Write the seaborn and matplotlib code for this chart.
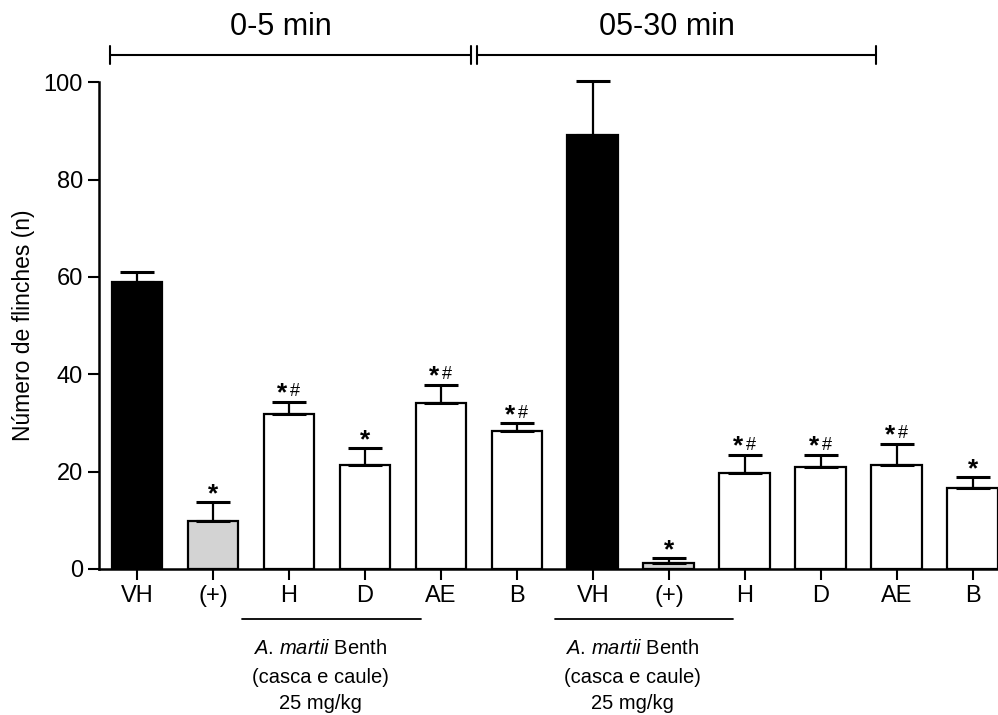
import numpy as np
import pandas as pd
import seaborn as sns
import matplotlib.pyplot as plt

# data
groups = ["VH", "(+)", "H", "D", "AE", "B", "VH", "(+)", "H", "D", "AE", "B"]
means = [58.9, 9.9, 31.8, 21.4, 34.2, 28.3, 89.2, 1.3, 19.7, 20.9, 21.4, 16.6]
sem = [2.1, 3.8, 2.5, 3.4, 3.6, 1.6, 11.1, 1.0, 3.7, 2.5, 4.3, 2.3]
marks = ["", "*", "*#", "*", "*#", "*#", "", "*", "*#", "*#", "*#", "*"]
fills = ["black", "#d3d3d3", "white", "white", "white", "white",
         "black", "#d3d3d3", "white", "white", "white", "white"]

sns.set_style("ticks")
plt.rcParams["font.family"] = ["Liberation Sans", "DejaVu Sans"]
plt.rcParams["mathtext.fontset"] = "custom"
plt.rcParams["mathtext.rm"] = "Liberation Sans"
plt.rcParams["mathtext.it"] = "Liberation Sans:italic"
for k in ["text.color", "axes.labelcolor", "xtick.color", "ytick.color",
          "axes.edgecolor"]:
    plt.rcParams[k] = "black"

df = pd.DataFrame({"key": [f"{g}_{i}" for i, g in enumerate(groups)],
                   "mean": means})

fig = plt.figure(figsize=(9.98, 7.15), dpi=100)
ax = fig.add_axes([0.0992, 0.2042, 0.9008, 0.6808])

sns.barplot(data=df, x="key", y="mean", hue="key", palette=fills,
            legend=False, width=0.67, edgecolor="black", linewidth=1.6,
            errorbar=None, ax=ax)

pos = np.arange(len(groups))
ax.errorbar(pos, means, yerr=[np.zeros(len(sem)), sem], fmt="none",
            ecolor="black", elinewidth=1.6, capsize=12, capthick=2.2,
            clip_on=False, zorder=3)

# significance marks
for x, m, s, t in zip(pos, means, sem, marks):
    if not t:
        continue
    top = m + s
    if t == "*":
        ax.annotate("*", (x, top), xytext=(0, 0.5), textcoords="offset points",
                    ha="center", va="baseline", fontsize=19, fontweight="bold")
    else:
        ax.annotate("*", (x, top), xytext=(-1.0, 1.0), textcoords="offset points",
                    ha="right", va="baseline", fontsize=19, fontweight="bold")
        ax.annotate("#", (x, top), xytext=(1.0, 4.0), textcoords="offset points",
                    ha="left", va="baseline", fontsize=13)

ax.set_xlim(-0.5, 11.33)
ax.set_ylim(0, 100)
ax.set_yticks([0, 20, 40, 60, 80, 100])
ax.set_xticks(pos)
ax.set_xticklabels(groups)
ax.tick_params(labelsize=17, width=1.5, length=8, direction="out")
ax.set_xlabel("")
ax.set_ylabel("Número de flinches (n)", fontsize=16.5, labelpad=6)
sns.despine(ax=ax)
for sp in ["left", "bottom"]:
    ax.spines[sp].set_linewidth(1.8)

# time-window brackets above the plot
trans = ax.get_xaxis_transform()
brackets = [(-0.355, 4.40, "0-5 min"), (4.47, 9.73, "05-30 min")]
for x0, x1, lab in brackets:
    ax.plot([x0, x1], [1.056, 1.056], color="black", lw=1.5,
            transform=trans, clip_on=False)
    for xe in (x0, x1):
        ax.plot([xe, xe], [1.038, 1.074], color="black", lw=1.5,
                transform=trans, clip_on=False)
    ax.text((x0 + x1) / 2 - 0.13, 1.113, lab, ha="center", va="center",
            fontsize=22, transform=trans)

# treatment group labels below the axis
for x0, x1 in [(1.38, 3.74), (5.5, 7.84)]:
    ax.plot([x0, x1], [-0.102, -0.102], color="black", lw=1.3,
            transform=trans, clip_on=False)
    xc = (x0 + x1) / 2 - 0.15
    ax.text(xc, -0.163, r"$\mathit{A.\,martii}$ Benth", ha="center",
            va="center", fontsize=14.5, transform=trans)
    ax.text(xc, -0.222, "(casca e caule)", ha="center", va="center",
            fontsize=14.5, transform=trans)
    ax.text(xc, -0.277, "25 mg/kg", ha="center", va="center",
            fontsize=14.5, transform=trans)

fig.savefig("out.png", dpi=100)
